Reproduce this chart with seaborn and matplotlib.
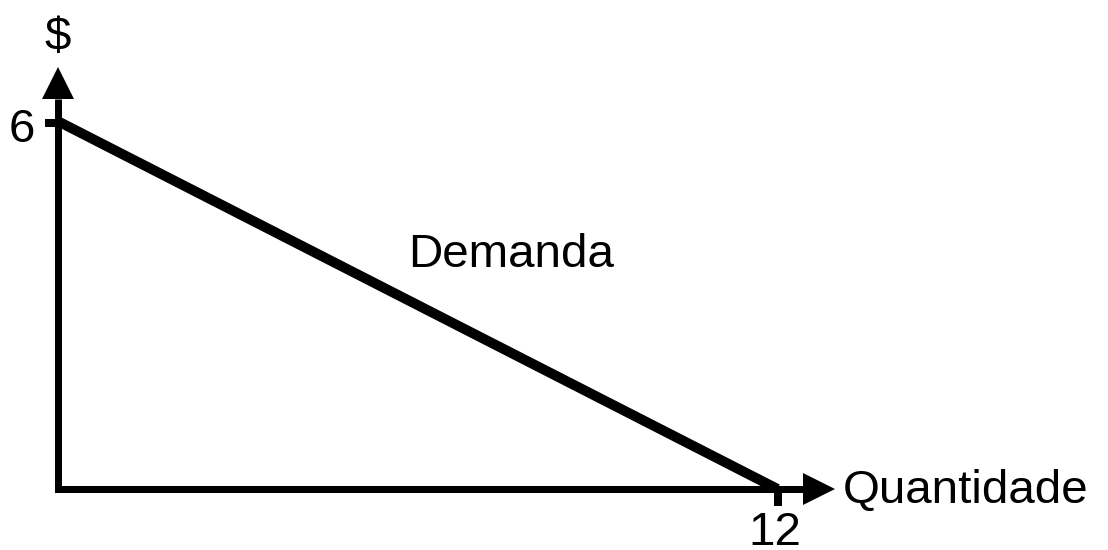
import matplotlib
matplotlib.use("Agg")
import matplotlib.pyplot as plt
import seaborn as sns
import pandas as pd

# Data
quantity = [0, 12]
price = [6, 0]
x_tick_labels = ["12"]
y_tick_labels = ["6"]
x_label = "Quantidade"
y_label = "$"
curve_label = "Demanda"

sns.set_theme(style="white")
plt.rcParams["font.family"] = ["Liberation Sans", "DejaVu Sans"]

DPI = 100
fig = plt.figure(figsize=(11.08, 5.5), dpi=DPI)
ax = fig.add_axes([0, 0, 1, 1])
ax.set_axis_off()

# pixel scale: x 60 px/unit (origin at 57.5px), y (origin at 489px from top, 6 at 121px)
px_x, px_y = 60.0, 368.0 / 6.0
ox, oy = 57.5, 489.0
W, H = 1108, 550
ax.set_xlim(-ox / px_x, (W - ox) / px_x)
ax.set_ylim(-(H - oy) / px_y, oy / px_y)

def pt(px):
    return px * 72.0 / DPI

qmax = max(quantity)
pmax = max(price)

# axes lines with arrowheads
y_base = pmax + 22 / px_y
x_base = qmax + 25.5 / px_x
ax.plot([0, 0, x_base], [y_base, 0, 0], color="black", lw=pt(7),
        solid_joinstyle="miter", solid_capstyle="butt")
ax.plot([0], [pmax + 38 / px_y], marker="^", markersize=pt(32), color="black", mew=0)
ax.plot([qmax + 41.5 / px_x], [0], marker=">", markersize=pt(32), color="black", mew=0)

# ticks
ax.plot([0], [pmax - 1.5 / px_y], marker=0, markersize=pt(13), mew=pt(8), color="black")
ax.plot([qmax], [0], marker=3, markersize=pt(17), mew=pt(8), color="black")

# demand line
df = pd.DataFrame({"q": quantity, "p": price})
sns.lineplot(data=df, x="q", y="p", ax=ax, color="black", lw=pt(10),
             solid_capstyle="butt")
ax.set_axis_off()

fs = pt(47.5)
ax.annotate(y_tick_labels[0], xy=(0, pmax), xytext=(-35.5, -21),
            textcoords="offset pixels", ha="center", va="baseline", fontsize=fs, color="black")
ax.annotate(x_tick_labels[0], xy=(qmax, 0), xytext=(-2.5, -56),
            textcoords="offset pixels", ha="center", va="baseline", fontsize=fs, color="black")
ax.annotate(y_label, xy=(0, pmax), xytext=(0, 71),
            textcoords="offset pixels", ha="center", va="baseline", fontsize=fs, color="black")
ax.annotate(x_label, xy=(qmax, 0), xytext=(65.5, -14),
            textcoords="offset pixels", ha="left", va="baseline", fontsize=fs, color="black")
ax.annotate(curve_label, xy=(qmax / 2, pmax / 2), xytext=(93.5, 38),
            textcoords="offset pixels", ha="center", va="baseline", fontsize=fs, color="black")

fig.savefig("out.png", dpi=DPI, facecolor="white")
